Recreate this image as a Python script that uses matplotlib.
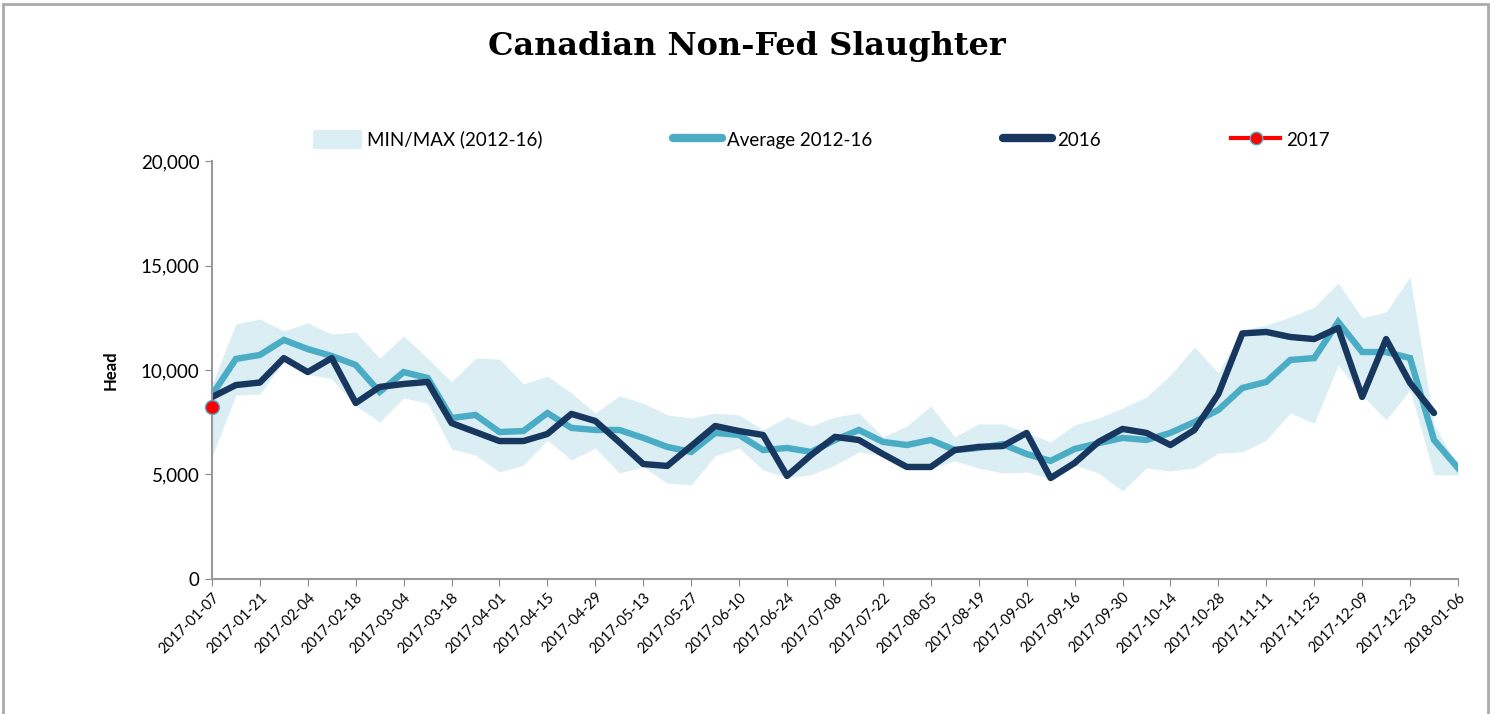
import matplotlib
matplotlib.use('Agg')
import matplotlib.pyplot as plt
import numpy as np
import pandas as pd
from matplotlib.patches import Rectangle, Patch
from matplotlib.lines import Line2D

plt.rcParams['font.family'] = ['Lato', 'DejaVu Sans']

# weekly dates, 2017-01-07 .. 2018-01-06
weeks = pd.date_range('2017-01-07', periods=53, freq='7D')

band_max = [9300, 12200, 12440, 11870, 12250, 11720, 11820, 10570, 11630, 10570,
            9430, 10570, 10520, 9330, 9710, 8900, 7940, 8760, 8420, 7850,
            7700, 7940, 7850, 7130, 7750, 7320, 7750, 7940, 6800, 7320,
            8280, 6800, 7420, 7420, 7000, 6560, 7370, 7700, 8180, 8710,
            9760, 11100, 9860, 11910, 12150, 12540, 13010, 14160, 12490, 12780,
            14450, 7400, 5350]
band_min = [5840, 8800, 8850, 10400, 9800, 9570, 8300, 7510, 8660, 8420,
            6220, 5930, 5120, 5450, 6650, 5690, 6270, 5070, 5360, 4590,
            4500, 5890, 6270, 5220, 4850, 4980, 5450, 6080, 5900, 5300,
            5300, 5650, 5310, 5070, 5120, 4800, 5450, 5070, 4210, 5310,
            5170, 5310, 6030, 6080, 6650, 7940, 7460, 10240, 8800, 7610,
            9040, 4980, 4980]
avg_12_16 = [8800, 10530, 10720, 11440, 11000, 10670, 10240, 8950, 9900, 9620,
             7700, 7850, 7030, 7080, 7940, 7230, 7130, 7130, 6750, 6320,
             6080, 6990, 6890, 6170, 6270, 6080, 6650, 7130, 6560, 6410,
             6650, 6170, 6270, 6450, 5980, 5650, 6220, 6500, 6750, 6650,
             6990, 7510, 8090, 9140, 9430, 10480, 10570, 12300, 10860, 10860,
             10570, 6650, 5310]
y2016 = [8700, 9280, 9400, 10570, 9900, 10570, 8420, 9190, 9330, 9430,
         7460, 7030, 6600, 6600, 6940, 7900, 7560, 6550, 5500, 5410,
         6360, 7320, 7080, 6890, 4930, 5930, 6800, 6650, 5980, 5360,
         5360, 6170, 6320, 6360, 6990, 4830, 5550, 6560, 7180, 6990,
         6410, 7130, 8850, 11750, 11820, 11580, 11480, 12010, 8710, 11480,
         9380, 7940]
y2017 = [8230]

c_band = '#DAEEF3'
c_avg = '#4BACC6'
c_2016 = '#17375E'

fig = plt.figure(figsize=(15.02, 7.14), dpi=100)
ax = fig.add_axes([0.1411, 0.1891, 0.8296, 0.5854])

x = np.arange(len(weeks))
ax.fill_between(x, band_min, band_max, color=c_band, linewidth=0)
ax.plot(x, avg_12_16, color=c_avg, lw=4.6, solid_joinstyle='miter')
ax.plot(x[:len(y2016)], y2016, color=c_2016, lw=4.6, solid_capstyle='round')
ax.plot(x[:len(y2017)], y2017, color='red', lw=2.5, marker='o', ms=10,
        markerfacecolor='red', markeredgecolor=c_avg, markeredgewidth=1, clip_on=False, zorder=5)

ax.set_xlim(0, len(weeks) - 1)
ax.set_ylim(0, 20000)
ax.set_yticks([0, 5000, 10000, 15000, 20000])
ax.yaxis.set_major_formatter(matplotlib.ticker.FuncFormatter(lambda v, p: f'{int(v):,}'))
ax.set_xticks(x[::2])
ax.set_xticklabels([d.strftime('%Y-%m-%d') for d in weeks[::2]], rotation=45,
                   ha='right', rotation_mode='anchor', fontsize=10.5)
ax.tick_params(axis='y', labelsize=13.5, length=5, color='#888888', pad=4)
ax.tick_params(axis='x', length=5, color='#888888', pad=3)
for s in ['top', 'right']:
    ax.spines[s].set_visible(False)
for s in ['left', 'bottom']:
    ax.spines[s].set_color('#999999')
    ax.spines[s].set_linewidth(1.5)
ax.set_ylabel('Head', fontsize=12, fontweight='bold', labelpad=16)

fig.text(0.497, 0.935, 'Canadian Non-Fed Slaughter', ha='center', va='center',
         fontsize=23, fontweight='bold', family='DejaVu Serif')

handles = [Patch(facecolor=c_band, edgecolor='none'),
           Line2D([], [], color=c_avg, lw=6, solid_capstyle='round'),
           Line2D([], [], color=c_2016, lw=6, solid_capstyle='round'),
           Line2D([], [], color='red', lw=3, marker='o', ms=9,
                  markerfacecolor='red', markeredgecolor=c_avg)]
labels = ['MIN/MAX (2012-16)', 'Average 2012-16', '2016', '2017']
fig.legend(handles, labels, loc='center', bbox_to_anchor=(0.5467, 0.805), ncol=4,
           frameon=False, fontsize=13.5, columnspacing=6.95, handlelength=2.6,
           handletextpad=0.3, handleheight=1.2)

fig.add_artist(Rectangle((0.002, -0.01), 0.989, 1.005, transform=fig.transFigure,
                         fill=False, edgecolor='#AAAAAA', linewidth=2))

fig.savefig('out.png', dpi=100)
